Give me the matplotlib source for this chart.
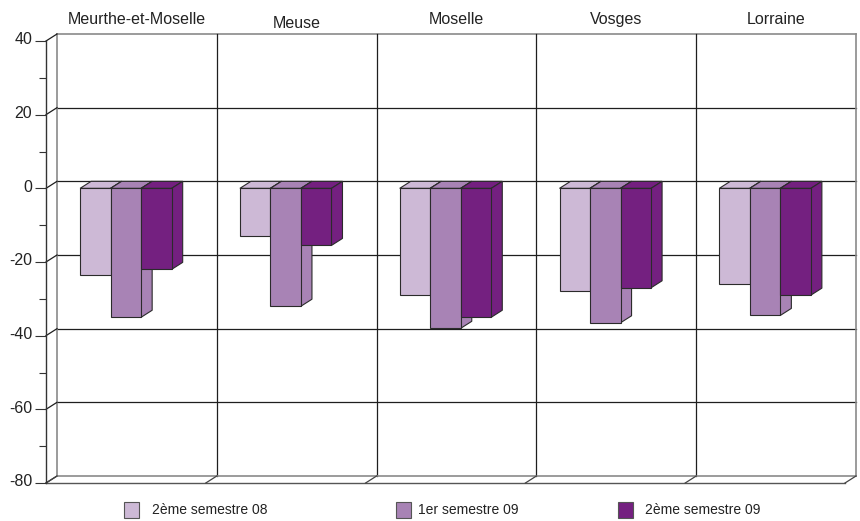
import matplotlib
matplotlib.use("Agg")
import matplotlib.pyplot as plt
import matplotlib.transforms as mtransforms
from matplotlib.patches import Polygon, Rectangle

plt.rcParams['font.family'] = ['Liberation Sans', 'DejaVu Sans']
plt.rcParams['axes.unicode_minus'] = False

# donnees
categories = ['Meurthe-et-Moselle', 'Meuse', 'Moselle', 'Vosges', 'Lorraine']
series = ['2ème semestre 08', '1er semestre 09', '2ème semestre 09']
s2_08 = [-23.5, -13, -29, -28, -26]
s1_09 = [-35, -32, -38, -36.5, -34.5]
s2_09 = [-22, -15.5, -35, -27, -29]
colors = ['#CDB9D6', '#A883B5', '#742080']
yticks = [-80, -60, -40, -20, 0, 20, 40]

W, H = 860, 521
fig = plt.figure(figsize=(W / 100, H / 100), dpi=100)
ax = fig.add_axes([46 / W, (H - 483) / H, (845 - 46) / W, (483 - 41) / H])
ax.set_xlim(0, 5)
ax.set_ylim(-80, 40)

# profondeur (effet 3d)
DX = 11 / 159.8
DY = 7 / 3.683
edge = '#2b2b2b'
grid = '#1e1e1e'
light = '#8a8a8a'

# mur du fond
for y in yticks[1:-1]:
    ax.plot([DX, 5 + DX], [y + DY, y + DY], color=grid, lw=0.9, clip_on=False, zorder=1)
ax.plot([DX, 5 + DX], [40 + DY, 40 + DY], color=light, lw=1.2, clip_on=False, zorder=1)
for i in range(1, 5):
    ax.plot([i + DX, i + DX], [-80 + DY, 40 + DY], color=grid, lw=0.9, clip_on=False, zorder=1)
ax.plot([DX, DX], [-80 + DY, 40 + DY], color=light, lw=1.2, clip_on=False, zorder=1)
ax.plot([5 + DX, 5 + DX], [-80 + DY, 40 + DY], color=light, lw=1.2, clip_on=False, zorder=1)

# mur de gauche
for y in yticks:
    ax.plot([0, DX], [y, y + DY], color=grid, lw=0.9, clip_on=False, zorder=1)

# sol
ax.plot([DX, 5 + DX], [-80 + DY, -80 + DY], color=light, lw=1.2, clip_on=False, zorder=1)
ax.plot([0, 5], [-80, -80], color='#555555', lw=1.0, clip_on=False, zorder=1)
for i in range(6):
    ax.plot([i, i + DX], [-80, -80 + DY], color='#444444', lw=0.9, clip_on=False, zorder=1)

# barres
bw = 0.191
start = 0.5 - 1.5 * bw
data = [s2_08, s1_09, s2_09]
z = 2
for i in range(len(categories)):
    for j, vals in enumerate(data):
        v = vals[i]
        x0 = i + start + j * bw
        x1 = x0 + bw
        top = Polygon([(x0, 0), (x1, 0), (x1 + DX, DY), (x0 + DX, DY)],
                      facecolor=colors[j], edgecolor=edge, lw=0.8, zorder=z, clip_on=False)
        side = Polygon([(x1, 0), (x1 + DX, DY), (x1 + DX, v + DY), (x1, v)],
                       facecolor=colors[j], edgecolor=edge, lw=0.8, zorder=z, clip_on=False)
        front = Polygon([(x0, 0), (x1, 0), (x1, v), (x0, v)],
                        facecolor=colors[j], edgecolor=edge, lw=0.8, zorder=z + 1, clip_on=False)
        ax.add_patch(top)
        ax.add_patch(side)
        ax.add_patch(front)
        z += 2

# noms des departements
for i, cat in enumerate(categories):
    off = 1.6 if cat == 'Meuse' else 2.7
    ax.text(i + 0.5 + DX, 40 + DY + off, cat, ha='center', va='baseline',
            fontsize=11.5, color='#222222')

# axe vertical
for s in ['top', 'right', 'bottom']:
    ax.spines[s].set_visible(False)
ax.spines['left'].set_color('#333333')
ax.spines['left'].set_linewidth(1.0)
ax.set_xticks([])
ax.set_yticks(yticks)
ax.set_yticks(range(-70, 40, 20), minor=True)
ax.tick_params(axis='y', which='major', length=8, width=0.8, color='#333333',
               labelsize=11.5, labelcolor='#222222', pad=2)
ax.tick_params(axis='y', which='minor', length=5, width=0.8, color='#333333')
shift = mtransforms.ScaledTranslation(0, 2 / 72, fig.dpi_scale_trans)
for lab in ax.get_yticklabels():
    lab.set_transform(lab.get_transform() + shift)
ax.patch.set_visible(False)

# legende
leg_x = [124, 396, 618]
txt_x = [152, 418, 645]
for k in range(3):
    fig.add_artist(Rectangle((leg_x[k] / W, (H - 518) / H), 15 / W, 16 / H,
                             transform=fig.transFigure, facecolor=colors[k],
                             edgecolor='#555555', lw=0.8))
    fig.text(txt_x[k] / W, (H - 510) / H, series[k], ha='left', va='center',
             fontsize=10, color='#222222')

fig.savefig('out.png', dpi=100)
